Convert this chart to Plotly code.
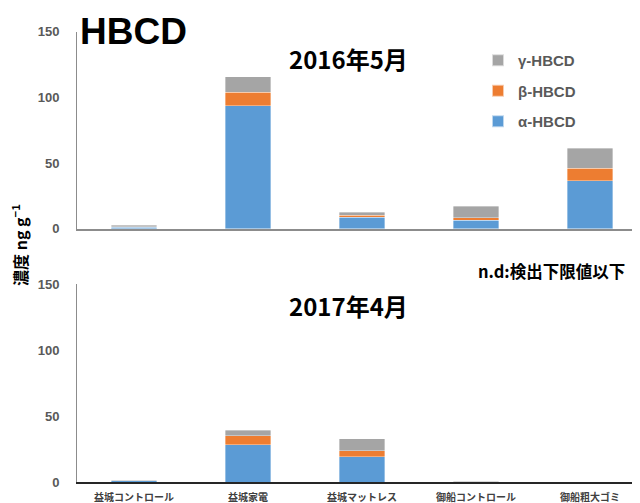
import plotly.graph_objects as go

categories = ["益城コントロール", "益城家電", "益城マットレス", "御船コントロール", "御船粗大ゴミ"]

# 2016年5月 (ng/g)
alpha_2016 = [1.2, 93.5, 8.6, 6.6, 36.4]
beta_2016 = [0.4, 10.3, 1.5, 1.7, 9.8]
gamma_2016 = [0.9, 12.0, 2.5, 8.9, 14.9]

# 2017年4月 (ng/g)
alpha_2017 = [1.0, 28.5, 19.2, 0.5, 0.0]
beta_2017 = [0.3, 6.8, 4.8, 0.0, 0.0]
gamma_2017 = [0.4, 4.3, 8.8, 0.2, 0.0]

series_names = ["α-HBCD", "β-HBCD", "γ-HBCD"]
colors = ["#5B9BD5", "#ED7D31", "#A5A5A5"]
y_ticks = [0, 50, 100, 150]

W, H = 640, 503
OFF = 8  # page body margin
ML, MR, MT, MB = 69, 0, 0, 28
pw, ph = W - ML - MR, H - MT - MB

def fy(ref_y):
    return ref_y - OFF

def ydom(ref_top, ref_bottom):
    lo = max(0.0, (ph - fy(ref_bottom)) / ph)
    hi = min(1.0, (ph - fy(ref_top)) / ph)
    return [lo, hi]

def px_x(ref_x):
    return (ref_x - OFF - ML) / pw

def px_y(ref_y):
    return (ph - fy(ref_y)) / ph

fig = go.Figure()
top_vals = [alpha_2016, beta_2016, gamma_2016]
bot_vals = [alpha_2017, beta_2017, gamma_2017]
for i, (name, col) in enumerate(zip(series_names, colors)):
    mk = dict(color=col, line=dict(width=0.6, color="rgba(255,255,255,0.6)"))
    fig.add_trace(go.Bar(x=categories, y=top_vals[i], name=name, marker=mk, legendrank=10 - i,
                         width=0.4, xaxis="x", yaxis="y", showlegend=True, legendgroup=name))
    fig.add_trace(go.Bar(x=categories, y=bot_vals[i], name=name, marker=mk,
                         width=0.4, xaxis="x2", yaxis="y2", showlegend=False, legendgroup=name))

tickfont = dict(family="Liberation Sans", size=13, color="#595959", weight="bold")
yax = dict(range=[0, 150], tickvals=y_ticks, showgrid=False, zeroline=False, showline=True,
           linecolor="#8c8c8c", linewidth=1, ticks="", tickfont=tickfont, ticklabelstandoff=14,
           automargin=False)
xr = [-0.5, -0.5 + pw / 114.0]
fig.update_layout(
    width=W, height=H, barmode="stack", plot_bgcolor="white", paper_bgcolor="white",
    margin=dict(l=ML, r=MR, t=MT, b=MB, autoexpand=False),
    xaxis=dict(domain=[0, 1], range=xr, anchor="y", showticklabels=False, showline=True,
               linecolor="#8c8c8c", linewidth=1.5, ticks="", showgrid=False, automargin=False),
    xaxis2=dict(domain=[0, 1], range=xr, anchor="y2", showline=True, linecolor="#262626",
                linewidth=1.5, ticks="", showgrid=False, ticklabelstandoff=5, automargin=False,
                tickfont=dict(family="Noto Sans CJK JP", size=10, color="#404040", weight="bold")),
    yaxis=dict(domain=ydom(31.7, 228.7), anchor="x", **yax),
    yaxis2=dict(domain=ydom(284.3, 482.3), anchor="x2", **yax),
    legend=dict(x=px_x(478), y=px_y(44), xanchor="left", yanchor="top",
                traceorder="grouped", tracegroupgap=8, bgcolor="rgba(0,0,0,0)",
                itemsizing="constant",
                font=dict(family="Liberation Sans", size=15, color="#595959", weight="bold")),
    showlegend=True,
)

ann = [
    dict(text="HBCD", x=px_x(78), y=px_y(32), xanchor="left", yanchor="middle",
         font=dict(family="Liberation Sans", size=37, color="black", weight="bold")),
    dict(text="2016年5月", x=px_x(348), y=px_y(58), xanchor="center", yanchor="middle",
         font=dict(family="Noto Sans CJK JP", size=24, color="black", weight="bold")),
    dict(text="2017年4月", x=px_x(348), y=px_y(305), xanchor="center", yanchor="middle",
         font=dict(family="Noto Sans CJK JP", size=24, color="black", weight="bold")),
    dict(text="n.d:検出下限値以下", x=px_x(627), y=px_y(271), xanchor="right", yanchor="middle",
         font=dict(family="Noto Sans CJK JP", size=16.5, color="black", weight="bold")),
    dict(text="濃度 ng g<sup>−1</sup>", x=px_x(20), y=px_y(245), xanchor="center", yanchor="middle",
         textangle=-90, font=dict(family="Noto Sans CJK JP", size=16, color="black", weight="bold")),
]
for a in ann:
    a.update(xref="paper", yref="paper", showarrow=False)
fig.update_layout(annotations=ann)

fig.write_html("out.html")
